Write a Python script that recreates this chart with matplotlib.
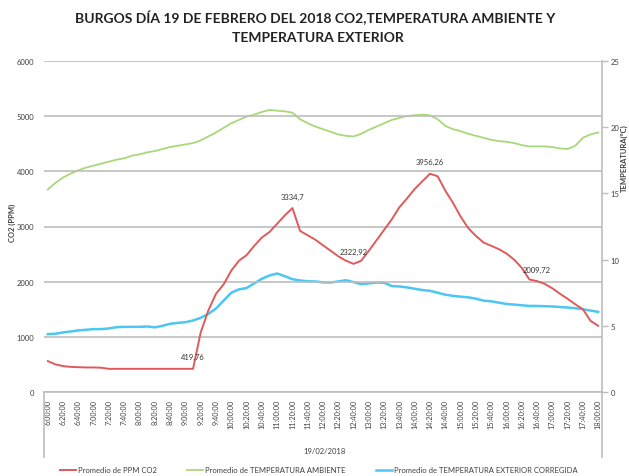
import numpy as np
import pandas as pd
import matplotlib
matplotlib.use("Agg")
import matplotlib.pyplot as plt

plt.rcParams['font.family'] = ['Lato', 'DejaVu Sans']

#### data (10 min steps)
hours = pd.date_range("2018-02-19 06:00", "2018-02-19 18:00", freq="10min")
hour_labels = [f"{t.hour}:{t.minute:02d}:00" for t in hours]

co2 = [560, 500, 470, 455, 450, 445, 445, 440, 420, 419.76,
       419.76, 419.76, 419.76, 419.76, 419.76, 419.76, 419.76, 419.76, 419.76, 419.76,
       1080, 1480, 1780, 1950, 2200, 2380, 2480, 2650, 2800, 2900,
       3050, 3200, 3334.7, 2920, 2840, 2760, 2660, 2560, 2460, 2380,
       2322.92, 2380, 2560, 2750, 2940, 3130, 3350, 3510, 3680, 3820,
       3956.26, 3910, 3650, 3430, 3180, 2970, 2830, 2710, 2650, 2590,
       2510, 2400, 2250, 2040, 2009.72, 1960, 1880, 1780, 1690, 1590,
       1500, 1290, 1200]

temp_amb = [15.3, 15.8, 16.2, 16.5, 16.75, 16.95, 17.1, 17.25, 17.4, 17.55,
            17.65, 17.85, 17.95, 18.1, 18.2, 18.35, 18.5, 18.6, 18.7, 18.8,
            19.0, 19.3, 19.6, 19.95, 20.3, 20.55, 20.8, 20.95, 21.15, 21.3,
            21.25, 21.2, 21.1, 20.6, 20.3, 20.05, 19.85, 19.65, 19.45, 19.35,
            19.3, 19.5, 19.8, 20.05, 20.3, 20.55, 20.7, 20.85, 20.9, 20.95,
            20.9, 20.6, 20.1, 19.85, 19.7, 19.5, 19.35, 19.2, 19.05, 18.95,
            18.9, 18.8, 18.65, 18.55, 18.55, 18.55, 18.5, 18.4, 18.35, 18.6,
            19.2, 19.45, 19.6]

temp_ext = [4.37, 4.4, 4.5, 4.57, 4.65, 4.7, 4.75, 4.75, 4.8, 4.9,
            4.92, 4.92, 4.92, 4.95, 4.88, 5.0, 5.15, 5.22, 5.27, 5.4,
            5.6, 5.9, 6.3, 6.9, 7.5, 7.75, 7.85, 8.2, 8.55, 8.8,
            8.95, 8.75, 8.52, 8.42, 8.36, 8.35, 8.28, 8.27, 8.35, 8.44,
            8.3, 8.14, 8.2, 8.27, 8.25, 8.0, 7.97, 7.9, 7.8, 7.7,
            7.64, 7.5, 7.35, 7.26, 7.2, 7.15, 7.05, 6.9, 6.85, 6.75,
            6.65, 6.6, 6.55, 6.5, 6.5, 6.48, 6.46, 6.42, 6.38, 6.33,
            6.25, 6.15, 6.05]

## points that carry a data label
labelled = [19, 32, 40, 50, 64]

series_names = ["Promedio de PPM CO2",
                "Promedio de TEMPERATURA AMBIENTE",
                "Promedio de TEMPERATURA EXTERIOR CORREGIDA"]

#### plotting
red = "#e05a5c"
green = "#a9d879"
blue = "#4cc6f2"
grid_col = "#bdbdbd"

W, H = 629, 477
fig = plt.figure(figsize=(W / 100, H / 100), dpi=100)
ax = fig.add_axes([44 / W, 1 - 393 / H, 558 / W, 331 / H])
ax2 = ax.twinx()
ax.set_zorder(ax2.get_zorder() + 1)
ax.patch.set_visible(False)

x = np.arange(len(co2))
l1, = ax.plot(x, co2, color=red, lw=1.4)
l2, = ax2.plot(x, temp_amb, color=green, lw=1.3)
l3, = ax2.plot(x, temp_ext, color=blue, lw=1.8)

for i in labelled:
    txt = f"{co2[i]:g}".replace(".", ",")
    ax.annotate(txt, (x[i], co2[i]), xytext=(0, 8.6), textcoords="offset points",
                ha="center", va="center", fontsize=5.5, color="#333333")

## axes
ax.set_xlim(-0.5, len(co2) - 0.5)
ax.set_ylim(0, 6000)
ax.set_yticks(range(0, 6001, 1000))
ax2.set_ylim(0, 25)
ax2.set_yticks(range(0, 26, 5))

ax.set_xticks(x[::2])
ax.set_xticklabels(hour_labels[::2], rotation=90)
ax.tick_params(axis="x", length=0, pad=5, labelsize=5.2, colors="#404040")
ax.tick_params(axis="y", length=0, pad=7, labelsize=5.5, colors="#404040")
ax2.tick_params(axis="y", length=4, width=1, color=grid_col, pad=2,
                labelsize=5.5, labelcolor="#404040")

ax.grid(axis="y", color=grid_col, lw=1.2)
ax.set_axisbelow(True)
for s in ["top", "left", "right"]:
    ax.spines[s].set_visible(False)
ax.spines["bottom"].set_color(grid_col)
ax.spines["bottom"].set_linewidth(1.2)
for s in ["top", "left", "bottom"]:
    ax2.spines[s].set_visible(False)
ax2.spines["right"].set_color(grid_col)
ax2.spines["right"].set_linewidth(1.2)

## date group separators under the tick labels
for xe in [-0.5, len(co2) - 0.5]:
    ax.plot([xe, xe], [0, -0.196], transform=ax.get_xaxis_transform(),
            clip_on=False, color=grid_col, lw=1.2)

fig.text(324 / W, 1 - 452 / H, "19/02/2018", ha="center", va="center",
         fontsize=5.5, color="#404040")

## titles
fig.text(315 / W, 1 - 18 / H, "BURGOS DÍA 19 DE FEBRERO DEL 2018 CO2,TEMPERATURA AMBIENTE Y",
         ha="center", va="center", fontsize=10, fontweight="bold", color="#222222")
fig.text(318 / W, 1 - 38 / H, "TEMPERATURA EXTERIOR",
         ha="center", va="center", fontsize=10, fontweight="bold", color="#222222")
fig.text(12 / W, 1 - 223 / H, "CO2 (PPM)", rotation=90, ha="center", va="center",
         fontsize=5.5, fontweight="bold", color="#404040")
fig.text(624 / W, 1 - 158 / H, "TEMPERATURA(ºC)", rotation=90, ha="center", va="center",
         fontsize=5.5, fontweight="bold", color="#404040")

## legend
fig.legend([l1, l2, l3], series_names, loc="center left",
           bbox_to_anchor=(60 / W, 1 - 471 / H), ncol=3, frameon=False,
           fontsize=5.5, handlelength=2.1, handletextpad=0.3, columnspacing=3.9,
           borderpad=0, borderaxespad=0, labelcolor="#404040")

plt.savefig("out.png", dpi=100)
